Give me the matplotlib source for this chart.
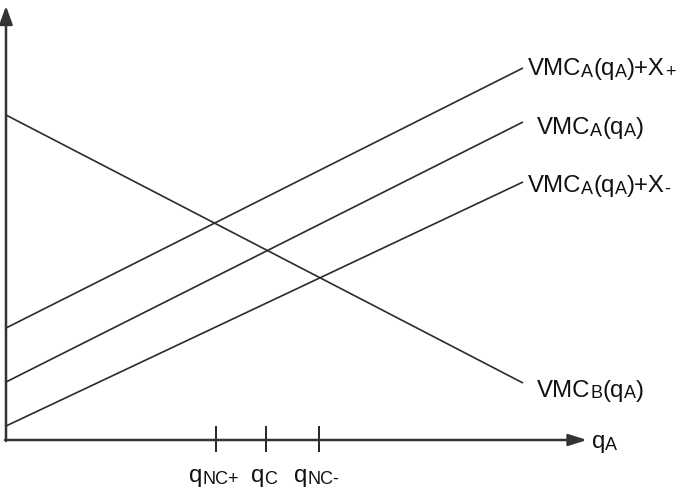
import matplotlib
matplotlib.use('Agg')
import matplotlib.pyplot as plt
from matplotlib.transforms import offset_copy

# curve endpoints (q = 0 and q = Q_END)
Q_END = 517
VMC_B = [325, 57]
VMC_A_PLUS = [112, 372]
VMC_A = [58, 318]
VMC_A_MINUS = [14, 258]

# marked quantities on the q axis
TICKS = [210, 260, 313]
TICK_LABELS = [
    [('q', 0), ('NC+', 1)],
    [('q', 0), ('C', 1)],
    [('q', 0), ('NC-', 1)],
]

# label pieces: (text, is_subscript)
LAB_A_PLUS = [('VMC', 0), ('A', 1), ('(q', 0), ('A', 1), (')+X', 0), ('+', 1)]
LAB_A = [('VMC', 0), ('A', 1), ('(q', 0), ('A', 1), (')', 0)]
LAB_A_MINUS = [('VMC', 0), ('A', 1), ('(q', 0), ('A', 1), (')+X', 0), ('-', 1)]
LAB_B = [('VMC', 0), ('B', 1), ('(q', 0), ('A', 1), (')', 0)]
LAB_Q = [('q', 0), ('A', 1)]

CURVES = [VMC_A_PLUS, VMC_A, VMC_A_MINUS, VMC_B]
LABELS = [LAB_A_PLUS, LAB_A, LAB_A_MINUS, LAB_B]
LABEL_X = [522, 531, 522, 531]
LABEL_Y = [365, 306, 248, 43]

plt.rcParams['font.family'] = ['Liberation Sans', 'DejaVu Sans']

fig = plt.figure(figsize=(6.81, 4.91), dpi=100)
ax = fig.add_axes([0, 0, 1, 1])
ax.set_xlim(-6, 675)
ax.set_ylim(-51, 440)
ax.axis('off')
renderer = fig.canvas.get_renderer()

BASE = 17.3
SUB = 0.75


def rich_text(x, y, pieces, ha='left'):
    arts = []
    dx = 0
    for s, sub in pieces:
        size = BASE * SUB if sub else BASE
        off = -1.5 if sub else 0
        t = ax.text(x, y, s, fontsize=size, ha='left', va='baseline', color='#111111',
                    transform=offset_copy(ax.transData, fig=fig, x=dx, y=off, units='dots'))
        arts.append((t, dx, off))
        dx += t.get_window_extent(renderer).width
    if ha == 'center':
        for t, d, off in arts:
            t.set_transform(offset_copy(ax.transData, fig=fig, x=d - dx / 2, y=off, units='dots'))


line_col = '#2b2b2b'
axis_col = '#333333'

# axes with arrows
ax.annotate('', xy=(581, 0), xytext=(-1, 0),
            arrowprops=dict(arrowstyle='-|>,head_length=1.1,head_width=0.35',
                            lw=1.8, color=axis_col, shrinkA=0, shrinkB=0))
ax.annotate('', xy=(0, 434), xytext=(0, -1),
            arrowprops=dict(arrowstyle='-|>,head_length=1.1,head_width=0.4',
                            lw=1.8, color=axis_col, shrinkA=0, shrinkB=0))

for vals in CURVES:
    ax.plot([0, Q_END], vals, color=line_col, lw=1.2, solid_capstyle='butt')
for lab, lx, ly in zip(LABELS, LABEL_X, LABEL_Y):
    rich_text(lx, ly, lab)

ax.vlines(TICKS, -12, 14, color='black', lw=1.2)
for t, lab in zip(TICKS, TICK_LABELS):
    rich_text(t - 2, -42, lab, ha='center')

rich_text(586, -8, LAB_Q)

fig.savefig('out.png', dpi=100)
